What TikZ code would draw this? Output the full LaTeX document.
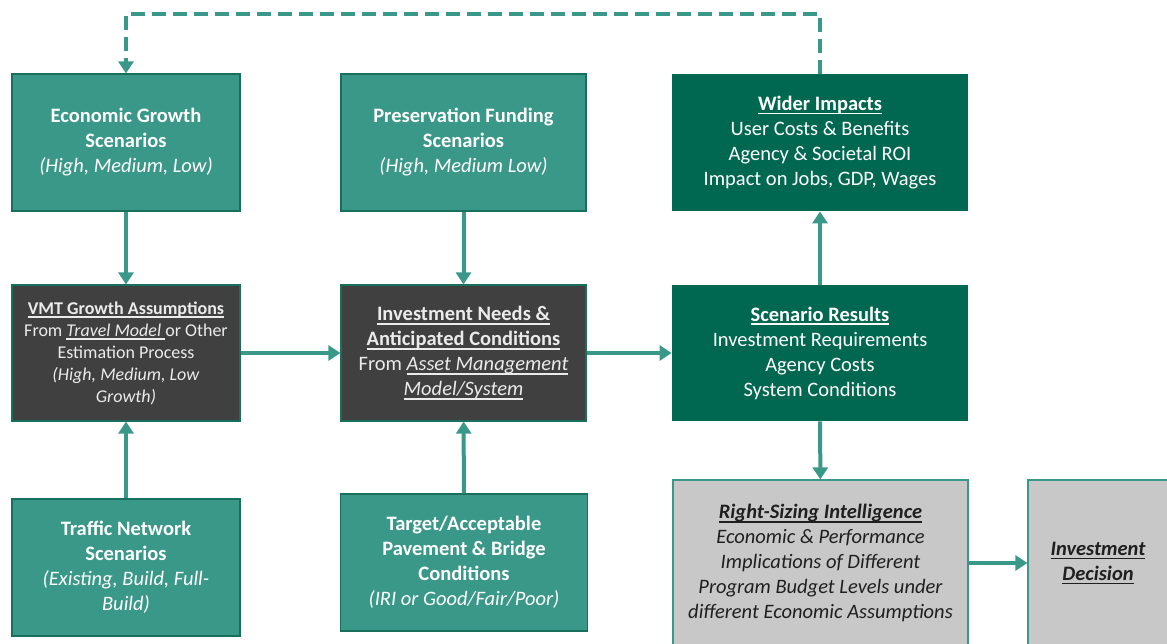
\documentclass[tikz,border=0pt]{standalone}
\usepackage{fontspec}
\setmainfont{Carlito}
\usetikzlibrary{arrows.meta}

% underline with a fixed rule
\newcommand{\uln}[1]{\setbox0\hbox{#1}\rlap{\rule[-2pt]{\wd0}{0.8pt}}\box0}

\definecolor{flowteal}{RGB}{58,152,137}
\definecolor{flowedge}{RGB}{24,112,92}
\definecolor{flowgreen}{RGB}{0,104,80}
\definecolor{flowdark}{RGB}{64,64,64}
\definecolor{flowgray}{RGB}{200,200,200}

\tikzset{
  box/.style={rectangle, align=center, inner sep=2pt,
    font=\fontsize{10.25}{12.5}\selectfont},
  inputbox/.style={box, fill=flowteal, draw=flowedge, line width=0.6pt, text=white},
  modelbox/.style={box, fill=flowdark, draw=flowedge, line width=0.6pt, text=white!92!black},
  resultbox/.style={box, fill=flowgreen, text=white},
  decisionbox/.style={box, fill=flowgray, draw=flowteal, line width=0.6pt, text=black!88},
  flow/.style={flowteal, line width=2pt, -{Triangle[length=6pt, width=7.5pt]}},
  feedback/.style={flow, dash pattern=on 7pt off 3.5pt},
}

\begin{document}
\begin{tikzpicture}[x=0.5pt, y=-0.5pt]
    \clip (0,0) rectangle (1167,643);

    % Entrees
    \node[inputbox, minimum width=114pt, minimum height=68.5pt] (EG) at (126,142.5)
      {\textbf{Economic Growth}\\ \textbf{Scenarios}\\ \textit{(High, Medium, Low)}};
    \node[inputbox, minimum width=122.5pt, minimum height=68.5pt] (PF) at (463.5,142.5)
      {\textbf{Preservation Funding}\\ \textbf{Scenarios}\\ \textit{(High, Medium Low)}};
    \node[inputbox, minimum width=114pt, minimum height=68.5pt] (TN) at (126,567.5)
      {\textbf{Traffic Network}\\ \textbf{Scenarios}\\ \textit{(Existing, Build, Full-}\\ \textit{Build)}};
    \node[inputbox, minimum width=123.5pt, minimum height=68.5pt] (TA) at (464,562.5)
      {\textbf{Target/Acceptable}\\ \textbf{Pavement \& Bridge}\\ \textbf{Conditions}\\ \textit{(IRI or Good/Fair/Poor)}};

    % Modeles
    \node[modelbox, minimum width=114pt, minimum height=68pt, font=\fontsize{9}{11}\selectfont] (VMT) at (126,353)
      {\textbf{\uln{VMT Growth Assumptions}}\\ From \uln{\textit{Travel Model }}or Other\\ Estimation Process\\
       \textit{(High, Medium, Low}\\ \textit{Growth)}};
    \node[modelbox, minimum width=122.5pt, minimum height=68pt] (IN) at (463.5,353)
      {\textbf{\uln{Investment Needs \&}}\\ \textbf{\uln{Anticipated Conditions}}\\
       From \uln{\textit{Asset Management}}\\ \uln{\textit{Model/System}}};

    % Resultats
    \node[resultbox, minimum width=148pt, minimum height=68pt] (SR) at (820,353)
      {\textbf{\uln{Scenario Results}}\\ Investment Requirements\\ Agency Costs\\ System Conditions};
    \node[resultbox, minimum width=148pt, minimum height=68.5pt] (WI) at (820,142.5)
      {\textbf{\uln{Wider Impacts}}\\ User Costs \& Benefits\\ Agency \& Societal ROI\\ Impact on Jobs, GDP, Wages};

    % Decision
    \node[decisionbox, minimum width=147.5pt, minimum height=83pt] (RS) at (820.5,563)
      {\textbf{\textit{\uln{Right-Sizing Intelligence}}}\\ \textit{Economic \& Performance}\\
       \textit{Implications of Different}\\ \textit{Program Budget Levels under}\\
       \textit{different Economic Assumptions}};
    \node[decisionbox, minimum width=70pt, minimum height=83pt] (ID) at (1098,563)
      {\textbf{\textit{\uln{Investment}}}\\ \textbf{\textit{\uln{Decision}}}};

    % Fleches
    \draw[flow] (EG) -- (VMT);
    \draw[flow] (TN) -- (VMT);
    \draw[flow] (PF) -- (IN);
    \draw[flow] (TA) -- (IN);
    \draw[flow] (VMT) -- (IN);
    \draw[flow] (IN) -- (SR);
    \draw[flow] (SR) -- (WI);
    \draw[flow] (SR) -- (RS);
    \draw[flow] (RS) -- (ID);

    % Retour
    \coordinate (loop) at (820,14);
    \draw[feedback] (WI.north) -- (loop) -| (EG.north);
\end{tikzpicture}
\end{document}
